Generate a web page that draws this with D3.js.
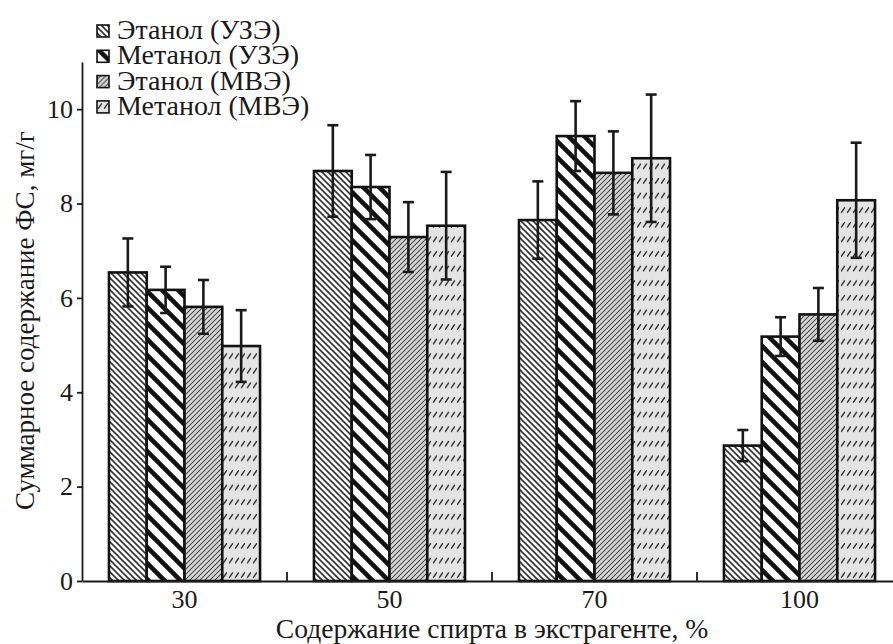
<!DOCTYPE html>
<html>
<head>
<meta charset="utf-8">
<script src="https://cdn.jsdelivr.net/npm/d3@7"></script>
<style>
    body { margin: 0; background: #fff; }
</style>
</head>
<body>
<div id="chart"></div>
<script>
// Chart data
const categories = ['30', '50', '70', '100'];
const seriesNames = ['Этанол (УЗЭ)', 'Метанол (УЗЭ)', 'Этанол (МВЭ)', 'Метанол (МВЭ)'];
const ethanolUZE = [6.54, 8.69, 7.65, 2.87];
const methanolUZE = [6.17, 8.35, 9.43, 5.18];
const ethanolMVE = [5.81, 7.29, 8.65, 5.65];
const methanolMVE = [4.98, 7.53, 8.96, 8.07];
const ethanolUZEErr = [0.72, 0.97, 0.82, 0.33];
const methanolUZEErr = [0.49, 0.68, 0.74, 0.41];
const ethanolMVEErr = [0.57, 0.74, 0.88, 0.56];
const methanolMVEErr = [0.76, 1.14, 1.35, 1.22];
const yTicks = [0, 2, 4, 6, 8, 10];

const xTitle = 'Содержание спирта в экстрагенте, %';
const yTitle = 'Суммарное содержание ФС, мг/г';

const FONT = 'Liberation Serif';

// every label goes through here so the serif face is set the same way
function label(sel, size) {
    return sel
        .attr('font-family', FONT)
        .attr('font-size', size)
        .attr('fill', '#1a1a1a')
        .style('font-family', `"${FONT}"`);
}

function draw() {
    const values = [ethanolUZE, methanolUZE, ethanolMVE, methanolMVE];
    const errors = [ethanolUZEErr, methanolUZEErr, ethanolMVEErr, methanolMVEErr];

    // flat table: one row per bar
    const rows = [];
    categories.forEach((c, i) => {
        seriesNames.forEach((s, j) => {
            rows.push({ cat: c, series: j, value: values[j][i], err: errors[j][i] });
        });
    });

    const dimensions = {
        width: 893,
        height: 644,
        left: 82,
        right: 902,
        top: 62,
        bottom: 581
    };

    // Scales
    const x0 = d3.scaleBand()
        .domain(categories)
        .range([dimensions.left, dimensions.right])
        .paddingInner(0.263)
        .paddingOuter(0.1315);

    const x1 = d3.scaleBand()
        .domain(d3.range(seriesNames.length))
        .range([0, x0.bandwidth()]);

    const y = d3.scaleLinear()
        .domain([0, 11])
        .range([dimensions.bottom, dimensions.top]);

    const svg = d3.select('#chart')
        .append('svg')
        .attr('width', dimensions.width)
        .attr('height', dimensions.height)
        .attr('font-family', FONT);

    // Hatch patterns
    const defs = svg.append('defs');

    const p0 = defs.append('pattern').attr('id', 'pat0')
        .attr('patternUnits', 'userSpaceOnUse').attr('width', 6).attr('height', 6);
    p0.append('rect').attr('width', 6).attr('height', 6).attr('fill', '#fff');
    p0.append('path').attr('d', 'M0,0L6,6M-1,5L1,7M5,-1L7,1')
        .attr('stroke', '#333').attr('stroke-width', 1.6);

    const p1 = defs.append('pattern').attr('id', 'pat1')
        .attr('patternUnits', 'userSpaceOnUse').attr('width', 16).attr('height', 16);
    p1.append('rect').attr('width', 16).attr('height', 16).attr('fill', '#fff');
    p1.append('path').attr('d', 'M0,0L16,16M-4,12L4,20M12,-4L20,4')
        .attr('stroke', '#111').attr('stroke-width', 4.5);

    const p2 = defs.append('pattern').attr('id', 'pat2')
        .attr('patternUnits', 'userSpaceOnUse').attr('width', 5).attr('height', 5);
    p2.append('rect').attr('width', 5).attr('height', 5).attr('fill', '#d8d8d8');
    p2.append('path').attr('d', 'M0,5L5,0M-1,1L1,-1M4,6L6,4')
        .attr('stroke', '#4a4a4a').attr('stroke-width', 1.1);

    const p3 = defs.append('pattern').attr('id', 'pat3')
        .attr('patternUnits', 'userSpaceOnUse').attr('width', 6).attr('height', 14.6);
    p3.append('rect').attr('width', 6).attr('height', 14.6).attr('fill', '#e4e4e4');
    p3.append('path').attr('d', 'M1.5,8L4.5,3.5')
        .attr('stroke', '#2a2a2a').attr('stroke-width', 1.4).attr('stroke-linecap', 'round');

    const fills = ['url(#pat0)', 'url(#pat1)', 'url(#pat2)', 'url(#pat3)'];

    // Bars
    svg.append('g')
        .selectAll('rect')
        .data(rows)
        .join('rect')
        .attr('x', d => x0(d.cat) + x1(d.series))
        .attr('y', d => y(d.value))
        .attr('width', x1.bandwidth())
        .attr('height', d => y(0) - y(d.value))
        .attr('fill', d => fills[d.series])
        .attr('stroke', '#111')
        .attr('stroke-width', 2.6);

    // Error bars
    const capW = 11;
    const eb = svg.append('g')
        .attr('stroke', '#1a1a1a')
        .attr('stroke-width', 2.6)
        .selectAll('g')
        .data(rows)
        .join('g')
        .attr('transform', d => `translate(${x0(d.cat) + x1(d.series) + x1.bandwidth() / 2},0)`);

    eb.append('line')
        .attr('y1', d => y(d.value + d.err))
        .attr('y2', d => y(d.value - d.err));
    eb.append('line')
        .attr('x1', -capW / 2).attr('x2', capW / 2)
        .attr('y1', d => y(d.value + d.err)).attr('y2', d => y(d.value + d.err));
    eb.append('line')
        .attr('x1', -capW / 2).attr('x2', capW / 2)
        .attr('y1', d => y(d.value - d.err)).attr('y2', d => y(d.value - d.err));

    // Y axis
    const yAxis = svg.append('g')
        .attr('transform', `translate(${dimensions.left},0)`)
        .call(d3.axisLeft(y).tickValues(yTicks).tickSize(5).tickSizeOuter(0).tickPadding(4))
        .attr('font-family', FONT)
        .attr('font-size', 26);
    yAxis.selectAll('path, line').attr('stroke', '#1a1a1a').attr('stroke-width', 1.8);
    label(yAxis.selectAll('text'), 26);

    // X axis
    const xAxis = svg.append('g')
        .attr('transform', `translate(0,${dimensions.bottom})`)
        .call(d3.axisBottom(x0).tickSize(0).tickSizeOuter(0).tickPadding(9))
        .attr('font-family', FONT)
        .attr('font-size', 26);
    xAxis.select('.domain').attr('stroke', '#1a1a1a').attr('stroke-width', 1.8);
    label(xAxis.selectAll('text'), 26).attr('dy', '0.71em');

    // separator ticks between groups, pointing inward
    const step = x0.step();
    svg.append('g')
        .selectAll('line')
        .data(categories.slice(0, -1))
        .join('line')
        .attr('x1', d => x0(d) + x0.bandwidth() + step * x0.paddingInner() / 2)
        .attr('x2', d => x0(d) + x0.bandwidth() + step * x0.paddingInner() / 2)
        .attr('y1', dimensions.bottom)
        .attr('y2', dimensions.bottom - 9)
        .attr('stroke', '#1a1a1a')
        .attr('stroke-width', 1.8);

    // Axis titles
    label(svg.append('text'), 27.6)
        .attr('x', (dimensions.left + dimensions.right) / 2)
        .attr('y', 638)
        .attr('text-anchor', 'middle')
        .text(xTitle);

    label(svg.append('text'), 27)
        .attr('transform', `translate(34,${(126 + 515) / 2}) rotate(-90)`)
        .attr('text-anchor', 'middle')
        .text(yTitle);

    // Legend
    const legend = svg.append('g')
        .selectAll('g')
        .data(seriesNames)
        .join('g')
        .attr('transform', (d, i) => `translate(97,${39 + i * 25.3})`);

    legend.append('rect')
        .attr('x', 0).attr('y', -14)
        .attr('width', 12).attr('height', 12)
        .attr('fill', (d, i) => fills[i])
        .attr('stroke', '#111')
        .attr('stroke-width', 1.6);

    label(legend.append('text'), 28)
        .attr('x', 20)
        .attr('y', 0)
        .text(d => d);
}

draw();
</script>
</body>
</html>
